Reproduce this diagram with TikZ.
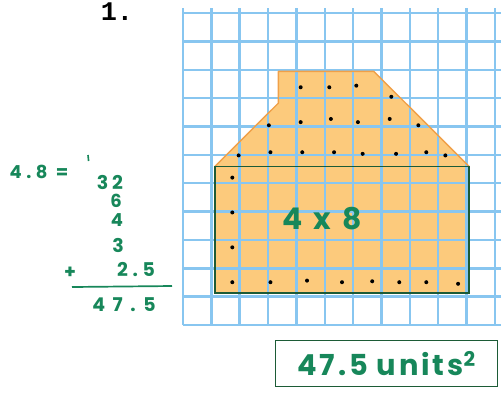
\documentclass[tikz,border=0pt]{standalone}
\usepackage{fontspec}
\newfontfamily\hand{Poppins}[LetterSpace=10]
\newfontfamily\printed{Liberation Mono}
\definecolor{gridblue}{HTML}{88C6F0}
\definecolor{paper}{HTML}{FCCA7C}
\definecolor{rim}{HTML}{F0A048}
\definecolor{ink}{HTML}{17875A}
\definecolor{darkink}{HTML}{1C5B36}
\tikzset{
  hw/.style={text=ink, inner sep=0pt, font=\hand\bfseries\fontsize{#1}{#1}\selectfont},
  wide/.style={execute at begin node={\addfontfeature{LetterSpace=#1}}},
  cellline/.style={gridblue, line width=2.4bp},
  counted/.style={fill=black}
}
\begin{document}
\begin{tikzpicture}[x=1bp,y=-1bp]
\useasboundingbox (0,0) rectangle (501,392);
\node[font=\printed\bfseries\fontsize{27}{27}\selectfont, inner sep=0pt] (num) at (117,12) {1.};
\begin{scope}[shift={(183,325)},x=31.8bp,y=31.7bp]
\fill[paper] (1,1) -- (9,1) -- (9,5) -- (6,8) -- (3,8) -- (3,7) -- (1,5) -- cycle;
\draw[cellline] (0,0) grid (10,10);
\draw[rim, line width=1.4bp, line join=round] (1,5) -- (3,7) -- (3,8) -- (6,8) -- (9,5);
\draw[darkink, line width=1.8bp] (1,1) rectangle (9,5);
\foreach \x/\y in {3.7/7.5, 4.6/7.5, 5.45/7.55, 6.55/7.2,
  2.7/6.3, 3.7/6.4, 4.65/6.5, 5.5/6.4, 6.5/6.5, 7.4/6.3,
  1.75/5.35, 2.75/5.45, 3.75/5.45, 4.75/5.45, 5.65/5.4, 6.7/5.4, 7.65/5.45, 8.25/5.35,
  1.55/4.65, 1.55/3.55, 1.55/2.45, 1.55/1.35,
  2.75/1.35, 3.9/1.4, 5/1.35, 5.95/1.38, 6.8/1.35, 7.65/1.35, 8.65/1.3}
  \fill[counted] (\x,\y) circle (2bp);
\node[hw=30, wide=15] (rect) at (4.37,3.35) {4 x 8};
\end{scope}
\node[hw=18, wide=25] (eq) at (39,172) {4.8 =};
\draw[ink, line width=1.6bp] (88,155) -- (88.6,161);
\node[hw=19, wide=20] (n32) at (110,182) {32};
\node[hw=18] (n6) at (116,201) {6};
\node[hw=18] (n4) at (117,220) {4};
\node[hw=19] (n3) at (118,245) {3};
\node[hw=19] (plus) at (70,273) {+};
\node[hw=19, wide=25] (n25) at (136,270) {2.5};
\draw[ink, line width=1.7bp] (72,287) -- (172,286);
\node[hw=19, wide=40] (total) at (124,305) {47.5};
\node[hw=29, draw=darkink, line width=1.8bp, minimum width=222bp, minimum height=46bp] (answer) at (386.5,363.5) {47.5 units\textsuperscript{2}};
\end{tikzpicture}
\end{document}
